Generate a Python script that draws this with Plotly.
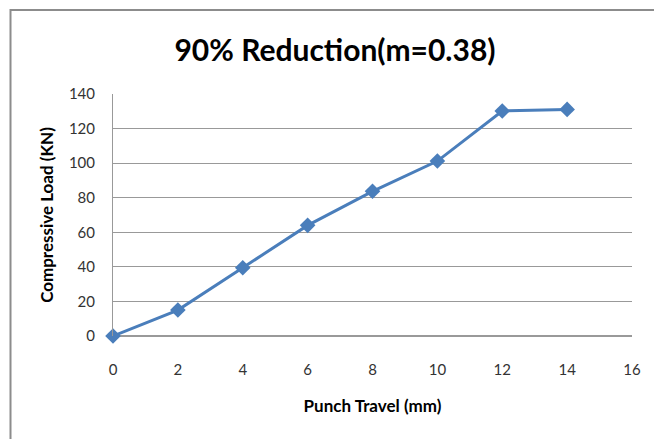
import plotly.graph_objects as go

punch_travel = [0, 2, 4, 6, 8, 10, 12, 14]
compressive_load = [0, 15, 39.5, 64, 83.7, 101.2, 130.2, 131.1]
x_ticks = [0, 2, 4, 6, 8, 10, 12, 14, 16]
y_ticks = [0, 20, 40, 60, 80, 100, 120, 140]

W, H = 654, 439
L, R, T, B = 113, 22, 94, 103
pw, ph = W - L - R, H - T - B

def px(x):
    return (x - L) / pw

def py(y):
    return (H - B - y) / ph

fig = go.Figure()
fig.add_trace(go.Scatter(
    x=punch_travel, y=compressive_load, mode="lines+markers",
    line=dict(color="#4A7EBB", width=3),
    marker=dict(symbol="diamond", size=12, color="#4A7EBB"),
    showlegend=False, cliponaxis=False,
))

fig.update_layout(
    width=W, height=H,
    margin=dict(l=L, r=R, t=T, b=B),
    paper_bgcolor="white", plot_bgcolor="white",
    title=dict(text="90% Reduction(m=0.38)", x=335 / W, xanchor="center",
               y=1 - 50 / H, yanchor="middle",
               font=dict(family="Lato", size=30, color="black", weight="bold")),
    xaxis=dict(range=[0, 16], tickvals=x_ticks, showgrid=False, zeroline=False,
               showline=False, ticks="", ticklabelstandoff=23,
               tickfont=dict(family="Lato", size=15, color="#333333"),
               title=dict(text="Punch Travel (mm)", standoff=23,
                          font=dict(family="Lato", size=17, color="black", weight="bold"))),
    yaxis=dict(range=[0, 140], tickvals=y_ticks, showgrid=True, gridcolor="#999999",
               gridwidth=1, zeroline=True, zerolinecolor="#999999", showline=True,
               linecolor="#999999", linewidth=1, ticks="", ticklabelstandoff=14,
               tickfont=dict(family="Lato", size=15, color="#333333"),
               title=dict(text="Compressive Load (KN)", standoff=10,
                          font=dict(family="Lato", size=17, color="black", weight="bold"))),
    shapes=[
        dict(type="rect", xref="paper", yref="paper",
             x0=px(10.5), x1=px(W + 20), y0=py(H + 20), y1=py(10),
             line=dict(color="#8c8c8c", width=2), fillcolor="rgba(0,0,0,0)", layer="below"),
    ],
)

fig.write_html("out.html")
